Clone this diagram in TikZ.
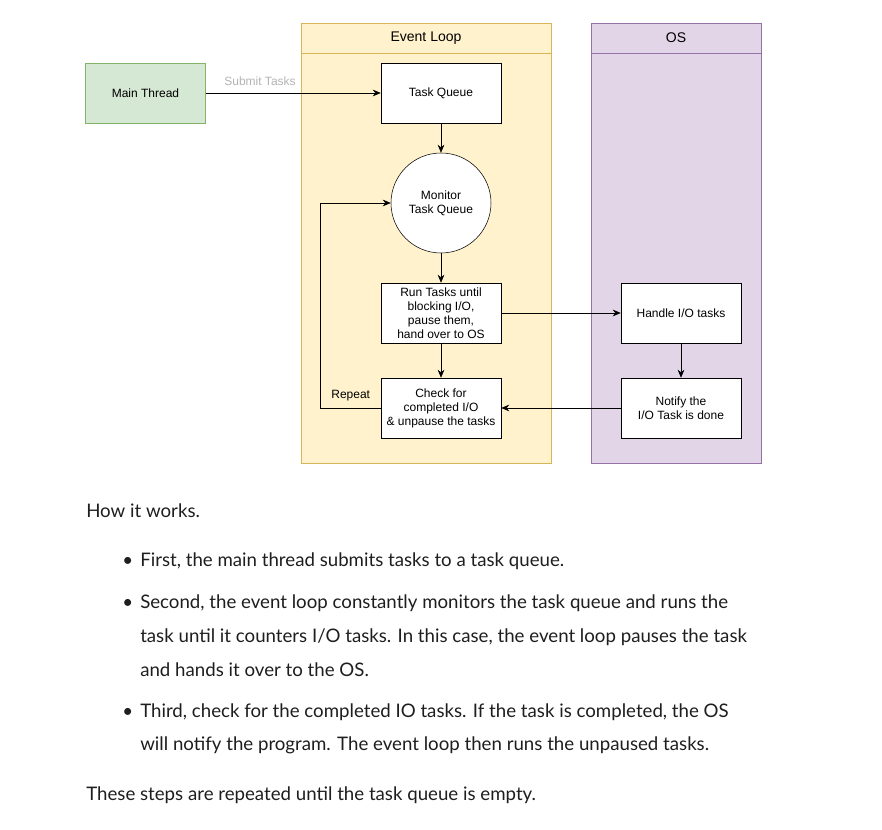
\documentclass[tikz,border=0pt]{standalone}
\usepackage{fontspec}
\setmainfont{Liberation Sans}
\newfontfamily\bodyfont{Lato}
\usetikzlibrary{arrows.meta}

\definecolor{threadfill}{HTML}{D5E8D4}
\definecolor{threaddraw}{HTML}{82B366}
\definecolor{loopfill}{HTML}{FFF2CC}
\definecolor{loopdraw}{HTML}{D6B656}
\definecolor{osfill}{HTML}{E1D5E7}
\definecolor{osdraw}{HTML}{9673A6}
\definecolor{labelgray}{HTML}{B3B3B3}
\definecolor{bodytext}{HTML}{1E1E1E}

\tikzset{
    box/.style={draw, fill=white, minimum width=90pt, minimum height=45pt, align=center, inner sep=1pt},
    arr/.style={-{Stealth[length=6pt,width=5pt]}},
    bodyline/.style={anchor=west, inner sep=0pt, text=bodytext, font=\bodyfont\fontsize{14}{16}\selectfont}
}

\begin{document}
\begin{tikzpicture}[x=0.75pt, y=-0.75pt, font=\fontsize{9}{10.5}\selectfont]
    \useasboundingbox (0,0) rectangle (882,830);

    % Swimlanes
    \draw[loopdraw, fill=loopfill] (301,23) rectangle (551,463);
    \draw[loopdraw] (301,53) -- (551,53);
    \node[font=\fontsize{10.5}{12}\selectfont] (loophead) at (426,38) {Event Loop};

    \draw[osdraw, fill=osfill] (591,23) rectangle (761,463);
    \draw[osdraw] (591,53) -- (761,53);
    \node[font=\fontsize{10.5}{12}\selectfont] (oshead) at (676,38) {OS};

    % Boxes
    \node[box, draw=threaddraw, fill=threadfill] (thread) at (145.5,93) {Main Thread};
    \node[box] (queue) at (441,93) {Task Queue};
    \node[draw, fill=white, circle, minimum size=75pt, align=center, inner sep=1pt] (monitor) at (441,203) {Monitor\\Task Queue};
    \node[box] (run) at (441,313) {Run Tasks until\\blocking I/O,\\pause them,\\hand over to OS};
    \node[box] (check) at (441,408) {Check for\\completed I/O\\\& unpause the tasks};
    \node[box] (handle) at (681,313) {Handle I/O tasks};
    \node[box] (notify) at (681,408) {Notify the\\I/O Task is done};

    % Connectors
    \draw[arr] (thread) -- node[pos=0.31, above, inner sep=5pt, text=labelgray] {Submit Tasks} (queue);
    \draw[arr] (queue) -- (monitor);
    \draw[arr] (monitor) -- (run);
    \draw[arr] (run) -- (check);
    \draw[arr] (run) -- (handle);
    \draw[arr] (handle) -- (notify);
    \draw[arr] (notify) -- (check);
    \draw[arr] (check.west) -- node[above, inner sep=5pt] {Repeat} ++(-60,0) |- (monitor.west);

    % Text below
    \node[bodyline] (intro) at (86,511) {How it works.};

    \node[bodyline] (dot1) at (122,562) {\textbullet};
    \node[bodyline] (first) at (140,561) {First, the main thread submits tasks to a task queue.};

    \node[bodyline] (dot2) at (122,604) {\textbullet};
    \node[bodyline] (second) at (140,603) {Second, the event loop constantly monitors the task queue and runs the};
    \node[bodyline] (secondb) at (140,637) {task until it counters I/O tasks. In this case, the event loop pauses the task};
    \node[bodyline] (secondc) at (140,670) {and hands it over to the OS.};

    \node[bodyline] (dot3) at (122,713) {\textbullet};
    \node[bodyline] (third) at (140,712) {Third, check for the completed IO tasks. If the task is completed, the OS};
    \node[bodyline] (thirdb) at (140,745) {will notify the program. The event loop then runs the unpaused tasks.};

    \node[bodyline] (outro) at (86,795) {These steps are repeated until the task queue is empty.};
\end{tikzpicture}
\end{document}
